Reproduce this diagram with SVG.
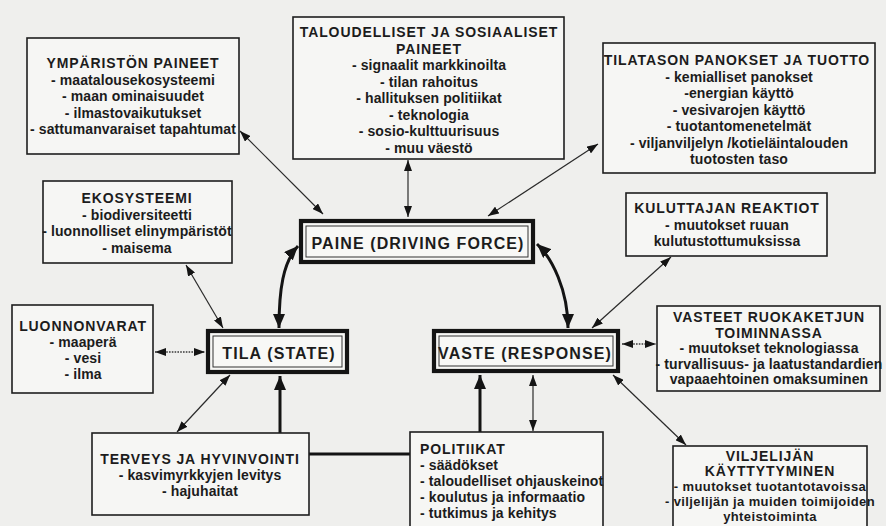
<svg xmlns="http://www.w3.org/2000/svg" width="886" height="526" viewBox="0 0 886 526">
<style>
  text { font-family: "Liberation Sans", Arial, sans-serif; font-weight: bold; fill: #1c1c1c; }
  .t { font-size: 14px; letter-spacing: 0.9px; text-anchor: middle; }
  .b { font-size: 14px; letter-spacing: 0.1px; text-anchor: middle; }
  .bs { font-size: 13px; letter-spacing: 0.4px; text-anchor: middle; }
  .bl { font-size: 14px; letter-spacing: 0.1px; text-anchor: start; }
  .tl { font-size: 14px; letter-spacing: 0.9px; text-anchor: start; }
  .c { font-size: 16px; letter-spacing: 1.1px; text-anchor: middle; }
  .box { fill: #f6f6f4; stroke: #1e1e1e; stroke-width: 1.6; }
  .outer { fill: #f8f8f6; stroke: #141414; stroke-width: 4.2; }
  .inner { fill: none; stroke: #333; stroke-width: 1; }
  .thin { fill: none; stroke: #2a2a2a; stroke-width: 1.2; marker-start: url(#ah); marker-end: url(#ah); }
  .dot { fill: none; stroke: #3a3a3a; stroke-width: 1.6; stroke-dasharray: 1.6 1.2; marker-start: url(#ah); marker-end: url(#ah); }
  .thick { fill: none; stroke: #141414; stroke-width: 3; }
</style>
<defs>
  <marker id="ah" markerUnits="userSpaceOnUse" markerWidth="11" markerHeight="8" refX="11" refY="4" orient="auto-start-reverse">
    <path d="M0,0 L11,4 L0,8 z" fill="#141414"/>
  </marker>
  <marker id="ahb" markerUnits="userSpaceOnUse" markerWidth="14" markerHeight="12" refX="14" refY="6" orient="auto-start-reverse">
    <path d="M0,0 L14,6 L0,12 z" fill="#141414"/>
  </marker>
</defs>
<rect x="0" y="0" width="886" height="526" fill="#efefed"/>

<g id="connectors">
  <path class="thin" d="M240,131 L323,214"/>
  <path class="thin" d="M408,160 L408,217"/>
  <path class="thin" d="M598,144 L488,216"/>
  <path class="thin" d="M186,265 L223,328"/>
  <path class="dot" d="M155,352 L205,352"/>
  <path class="thin" d="M177,432 L230,375"/>
  <path class="thick" d="M280,433 L280,376" marker-end="url(#ahb)"/>
  <path class="thick" d="M309,454 L410,454"/>
  <path class="thick" d="M480,432 L480,375" marker-end="url(#ahb)"/>
  <path class="thin" d="M533,375 L533,431"/>
  <path class="dot" d="M622,344 L656,344"/>
  <path class="thin" d="M613,375 L686,445"/>
  <path class="thin" d="M592,328 L671,257"/>
  <path class="thick" d="M279,328 C279,290 283,262 298,246" marker-start="url(#ahb)" marker-end="url(#ahb)"/>
  <path class="thick" d="M537,244 C552,258 568,290 568,328" marker-start="url(#ahb)" marker-end="url(#ahb)"/>
</g>

<g id="ymparisto">
  <rect class="box" x="27" y="38" width="212" height="116"/>
  <text class="t" x="133" y="68">YMPÄRISTÖN PAINEET</text>
  <text class="b" x="133" y="84.5">- maatalousekosysteemi</text>
  <text class="b" x="133" y="101">- maan ominaisuudet</text>
  <text class="b" x="133" y="117.5">- ilmastovaikutukset</text>
  <text class="b" x="133" y="134">- sattumanvaraiset tapahtumat</text>
</g>

<g id="taloudelliset">
  <rect class="box" x="293" y="17" width="271" height="142"/>
  <text class="t" x="429" y="37">TALOUDELLISET JA SOSIAALISET</text>
  <text class="t" x="429" y="53.5">PAINEET</text>
  <text class="b" x="429" y="70">- signaalit markkinoilta</text>
  <text class="b" x="429" y="86.5">- tilan rahoitus</text>
  <text class="b" x="429" y="103">- hallituksen politiikat</text>
  <text class="b" x="429" y="119.5">- teknologia</text>
  <text class="b" x="429" y="136">- sosio-kulttuurisuus</text>
  <text class="b" x="429" y="152.5">- muu väestö</text>
</g>

<g id="tilataso">
  <rect class="box" x="603" y="43" width="272" height="130"/>
  <text class="t" x="737" y="65">TILATASON PANOKSET JA TUOTTO</text>
  <text class="b" x="739" y="81.5">- kemialliset panokset</text>
  <text class="b" x="739" y="98">-energian käyttö</text>
  <text class="b" x="739" y="114.5">- vesivarojen käyttö</text>
  <text class="b" x="739" y="131">- tuotantomenetelmät</text>
  <text class="b" x="739" y="147.5">- viljanviljelyn /kotieläintalouden</text>
  <text class="b" x="739" y="164">tuotosten taso</text>
</g>

<g id="ekosysteemi">
  <rect class="box" x="43" y="181" width="189" height="82"/>
  <text class="t" x="137" y="203">EKOSYSTEEMI</text>
  <text class="b" x="137" y="219.5">- biodiversiteetti</text>
  <text class="b" x="137" y="236">- luonnolliset elinympäristöt</text>
  <text class="b" x="137" y="252.5">- maisema</text>
</g>

<g id="luonnonvarat">
  <rect class="box" x="12" y="305" width="141" height="88"/>
  <text class="t" x="83" y="331">LUONNONVARAT</text>
  <text class="b" x="83" y="347">- maaperä</text>
  <text class="b" x="83" y="363">- vesi</text>
  <text class="b" x="83" y="379">- ilma</text>
</g>

<g id="paine">
  <rect class="outer" x="301" y="221" width="232" height="41"/>
  <rect class="inner" x="306" y="226" width="222" height="31"/>
  <text class="c" x="418" y="249">PAINE (DRIVING FORCE)</text>
</g>

<g id="tila">
  <rect class="outer" x="208" y="331" width="139" height="41"/>
  <rect class="inner" x="213" y="336" width="129" height="31"/>
  <text class="c" x="279" y="359">TILA (STATE)</text>
</g>

<g id="vaste">
  <rect class="outer" x="434" y="331" width="184" height="40"/>
  <rect class="inner" x="439" y="336" width="174" height="30"/>
  <text class="c" x="525" y="359">VASTE (RESPONSE)</text>
</g>

<g id="kuluttajan">
  <rect class="box" x="626" y="193" width="201" height="63"/>
  <text class="t" x="727" y="213">KULUTTAJAN REAKTIOT</text>
  <text class="b" x="727" y="229.5">- muutokset ruuan</text>
  <text class="b" x="727" y="246">kulutustottumuksissa</text>
</g>

<g id="vasteet">
  <rect class="box" x="657" y="306" width="223" height="85"/>
  <text class="t" x="769" y="322">VASTEET RUOKAKETJUN</text>
  <text class="t" x="769" y="337.5">TOIMINNASSA</text>
  <text class="b" x="769" y="353">- muutokset teknologiassa</text>
  <text class="b" x="769" y="368.5">- turvallisuus- ja laatustandardien</text>
  <text class="b" x="769" y="384">vapaaehtoinen omaksuminen</text>
</g>

<g id="terveys">
  <rect class="box" x="92" y="433" width="217" height="82"/>
  <text class="t" x="200" y="464">TERVEYS JA HYVINVOINTI</text>
  <text class="b" x="200" y="480">- kasvimyrkkyjen levitys</text>
  <text class="b" x="200" y="496">- hajuhaitat</text>
</g>

<g id="politiikat">
  <rect class="box" x="410" y="432" width="193" height="100"/>
  <text class="tl" x="420" y="454">POLITIIKAT</text>
  <text class="bl" x="420" y="470">- säädökset</text>
  <text class="bl" x="420" y="486">- taloudelliset ohjauskeinot</text>
  <text class="bl" x="420" y="502">- koulutus ja informaatio</text>
  <text class="bl" x="420" y="518">- tutkimus ja kehitys</text>
</g>

<g id="viljelija">
  <rect class="box" x="673" y="446" width="194" height="90"/>
  <text class="t" x="770" y="461">VILJELIJÄN</text>
  <text class="t" x="770" y="476">KÄYTTYTYMINEN</text>
  <text class="bs" x="770" y="491">- muutokset tuotantotavoissa</text>
  <text class="bs" x="770" y="506">- viljelijän ja muiden toimijoiden</text>
  <text class="bs" x="770" y="521">yhteistoiminta</text>
</g>
</svg>
